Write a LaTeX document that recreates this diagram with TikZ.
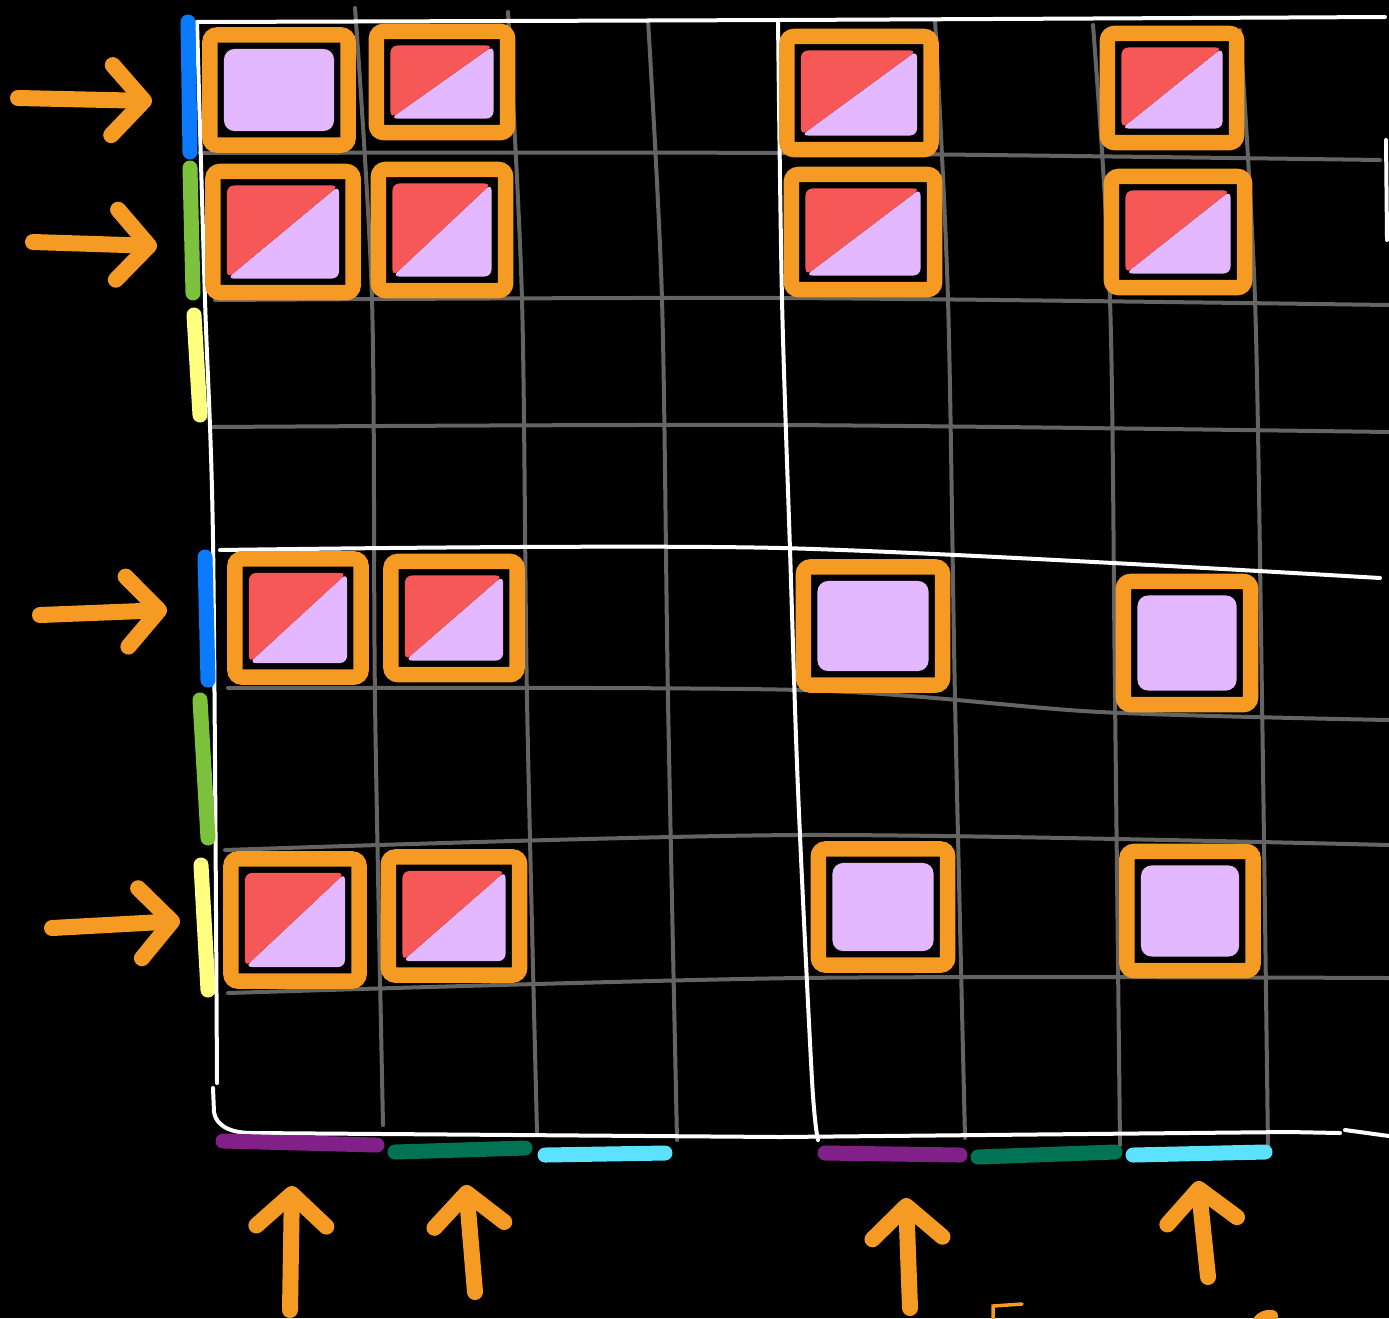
\documentclass[tikz,border=0pt]{standalone}
\usepackage{tikz}
\usetikzlibrary{arrows.meta}
\definecolor{tileorange}{RGB}{245,155,35}
\definecolor{tilered}{RGB}{246,87,87}
\definecolor{tilelilac}{RGB}{227,184,255}
\definecolor{gridgray}{RGB}{100,100,100}
\definecolor{barblue}{RGB}{10,122,255}
\definecolor{bargreen}{RGB}{125,194,60}
\definecolor{baryellow}{RGB}{255,255,128}
\definecolor{barpurple}{RGB}{130,32,138}
\definecolor{barteal}{RGB}{0,115,85}
\definecolor{barcyan}{RGB}{92,225,255}

\begin{document}
\begin{tikzpicture}[x=0.01cm, y=-0.01cm,
    grid/.style={draw=gridgray, line width=0.04cm, line cap=round, line join=round},
    frame/.style={draw=white, line width=0.04cm, line cap=round, line join=round},
    bar/.style={line width=0.15cm, line cap=round},
    arr/.style={draw=tileorange, line width=0.16cm, line cap=round,
                -{Straight Barb[length=3.2mm, width=7mm, round]}},
    tile/.style={draw=tileorange, line width=0.155cm, rounded corners=2pt, inner sep=0pt},
    full/.style={tile, path picture={
        \fill[tilelilac, rounded corners=3pt]
          ([shift={(14,14)}]path picture bounding box.north west) rectangle
          ([shift={(-14,-14)}]path picture bounding box.south east);}},
    split/.style={tile, path picture={
        \coordinate (p) at ([shift={(14,14)}]path picture bounding box.north west);
        \coordinate (q) at ([shift={(-14,-14)}]path picture bounding box.south east);
        \fill[tilelilac, rounded corners=2pt] (p|-q) -- (q) -- (q|-p) -- cycle;
        \fill[tilered, rounded corners=2pt] (p) -- (q|-p) -- (p|-q) -- cycle;}}]

% background
\fill[black] (0,0) rectangle (1389,1318);
\useasboundingbox (0,0) rectangle (1389,1318);

% gray grid lines
\draw[grid] plot[smooth] coordinates {(355,8) (372,300) (375,700) (383,1125)};
\draw[grid] plot[smooth] coordinates {(508,12) (522,300) (527,700) (537,1132)};
\draw[grid] plot[smooth] coordinates {(648,20) (662,300) (668,700) (677,1140)};
\draw[grid] plot[smooth] coordinates {(935,20) (948,300) (955,700) (965,1138)};
\draw[grid] plot[smooth] coordinates {(1093,25) (1110,300) (1115,700) (1120,1145)};
\draw[grid] plot[smooth] coordinates {(1240,30) (1255,300) (1262,700) (1268,1150)};
\draw[grid] plot[smooth] coordinates {(200,153) (780,153) (1380,160)};
\draw[grid] plot[smooth] coordinates {(215,300) (780,298) (1389,305)};
\draw[grid] plot[smooth] coordinates {(213,427) (780,425) (1389,432)};
\draw[grid] plot[smooth] coordinates {(228,688) (800,690) (1100,712) (1389,720)};
\draw[grid] plot[smooth] coordinates {(225,850) (800,835) (1389,845)};
\draw[grid] plot[smooth] coordinates {(228,993) (800,978) (1389,978)};

% white frame lines
\draw[frame] plot[smooth] coordinates {(197,22) (780,20) (1385,17)};
\draw[frame] plot[smooth] coordinates {(197,22) (205,300) (213,540) (217,1083)};
\draw[frame] (213,1088) -- (214,1112) to[out=-80,in=180] (253,1133) -- (780,1137)
    -- (1289,1132) -- (1340,1133);
\draw[frame] (1345,1130) -- (1389,1136);
\draw[frame] plot[smooth] coordinates {(778,20) (782,300) (790,550) (798,790) (812,1080) (818,1140)};
\draw[frame] plot[smooth] coordinates {(220,550) (780,548) (1380,578)};
\draw[frame] (1386,140) -- (1387,240);

% row markers
\draw[bar, barblue] (188,22) -- (190,152);
\draw[bar, bargreen] (190,168) -- (193,293);
\draw[bar, baryellow] (194,315) -- (200,415);
\draw[bar, barblue] (205,557) -- (208,680);
\draw[bar, bargreen] (200,700) -- (208,838);
\draw[bar, baryellow] (201,865) -- (208,990);

% column markers
\draw[bar, barpurple] (223,1141) -- (377,1145);
\draw[bar, barteal] (395,1152) -- (525,1148);
\draw[bar, barcyan] (545,1155) -- (665,1153);
\draw[bar, barpurple] (825,1153) -- (960,1155);
\draw[bar, barteal] (978,1157) -- (1115,1152);
\draw[bar, barcyan] (1133,1155) -- (1265,1152);

% tiles
\foreach \n/\cx/\cy/\w/\h/\kind in {
    t11/279/90/1.38/1.10/full, t12/442/82/1.31/1.01/split,
    t15/859/93/1.44/1.13/split, t17/1172/88/1.29/1.09/split,
    t21/283/232/1.40/1.21/split, t22/442/230/1.27/1.21/split,
    t25/863/232/1.43/1.15/split, t27/1178/232/1.33/1.11/split,
    t51/298/618/1.26/1.18/split, t52/454/618/1.26/1.13/split,
    t55/873/626/1.39/1.18/full, t57/1187/643/1.27/1.23/full,
    t71/295/920/1.28/1.22/split, t72/454/916/1.31/1.18/split,
    t75/883/907/1.29/1.16/full, t77/1190/911/1.26/1.19/full}
  \node[\kind, minimum width=\w cm, minimum height=\h cm] (\n) at (\cx,\cy) {};

% arrows pointing at the selected rows and columns
\foreach \sx/\sy/\ex/\ey [count=\i] in {
    18/98/152/101, 33/242/157/246, 40/615/167/610, 52/928/180/921,
    290/1310/292/1186, 475/1292/466/1185, 910/1308/906/1198, 1208/1277/1198/1181}{
  \coordinate (s\i) at (\sx,\sy);
  \coordinate (e\i) at (\ex,\ey);
  \draw[arr] (s\i) -- (e\i);
}

% cut-off strokes at the lower edge
\draw[draw=tileorange, line width=0.035cm, line cap=round] (993,1320) -- (993,1306) -- (1022,1304);
\draw[draw=tileorange, line width=0.12cm, line cap=round] (1258,1322) to[bend left=30] (1272,1316);
\end{tikzpicture}
\end{document}
